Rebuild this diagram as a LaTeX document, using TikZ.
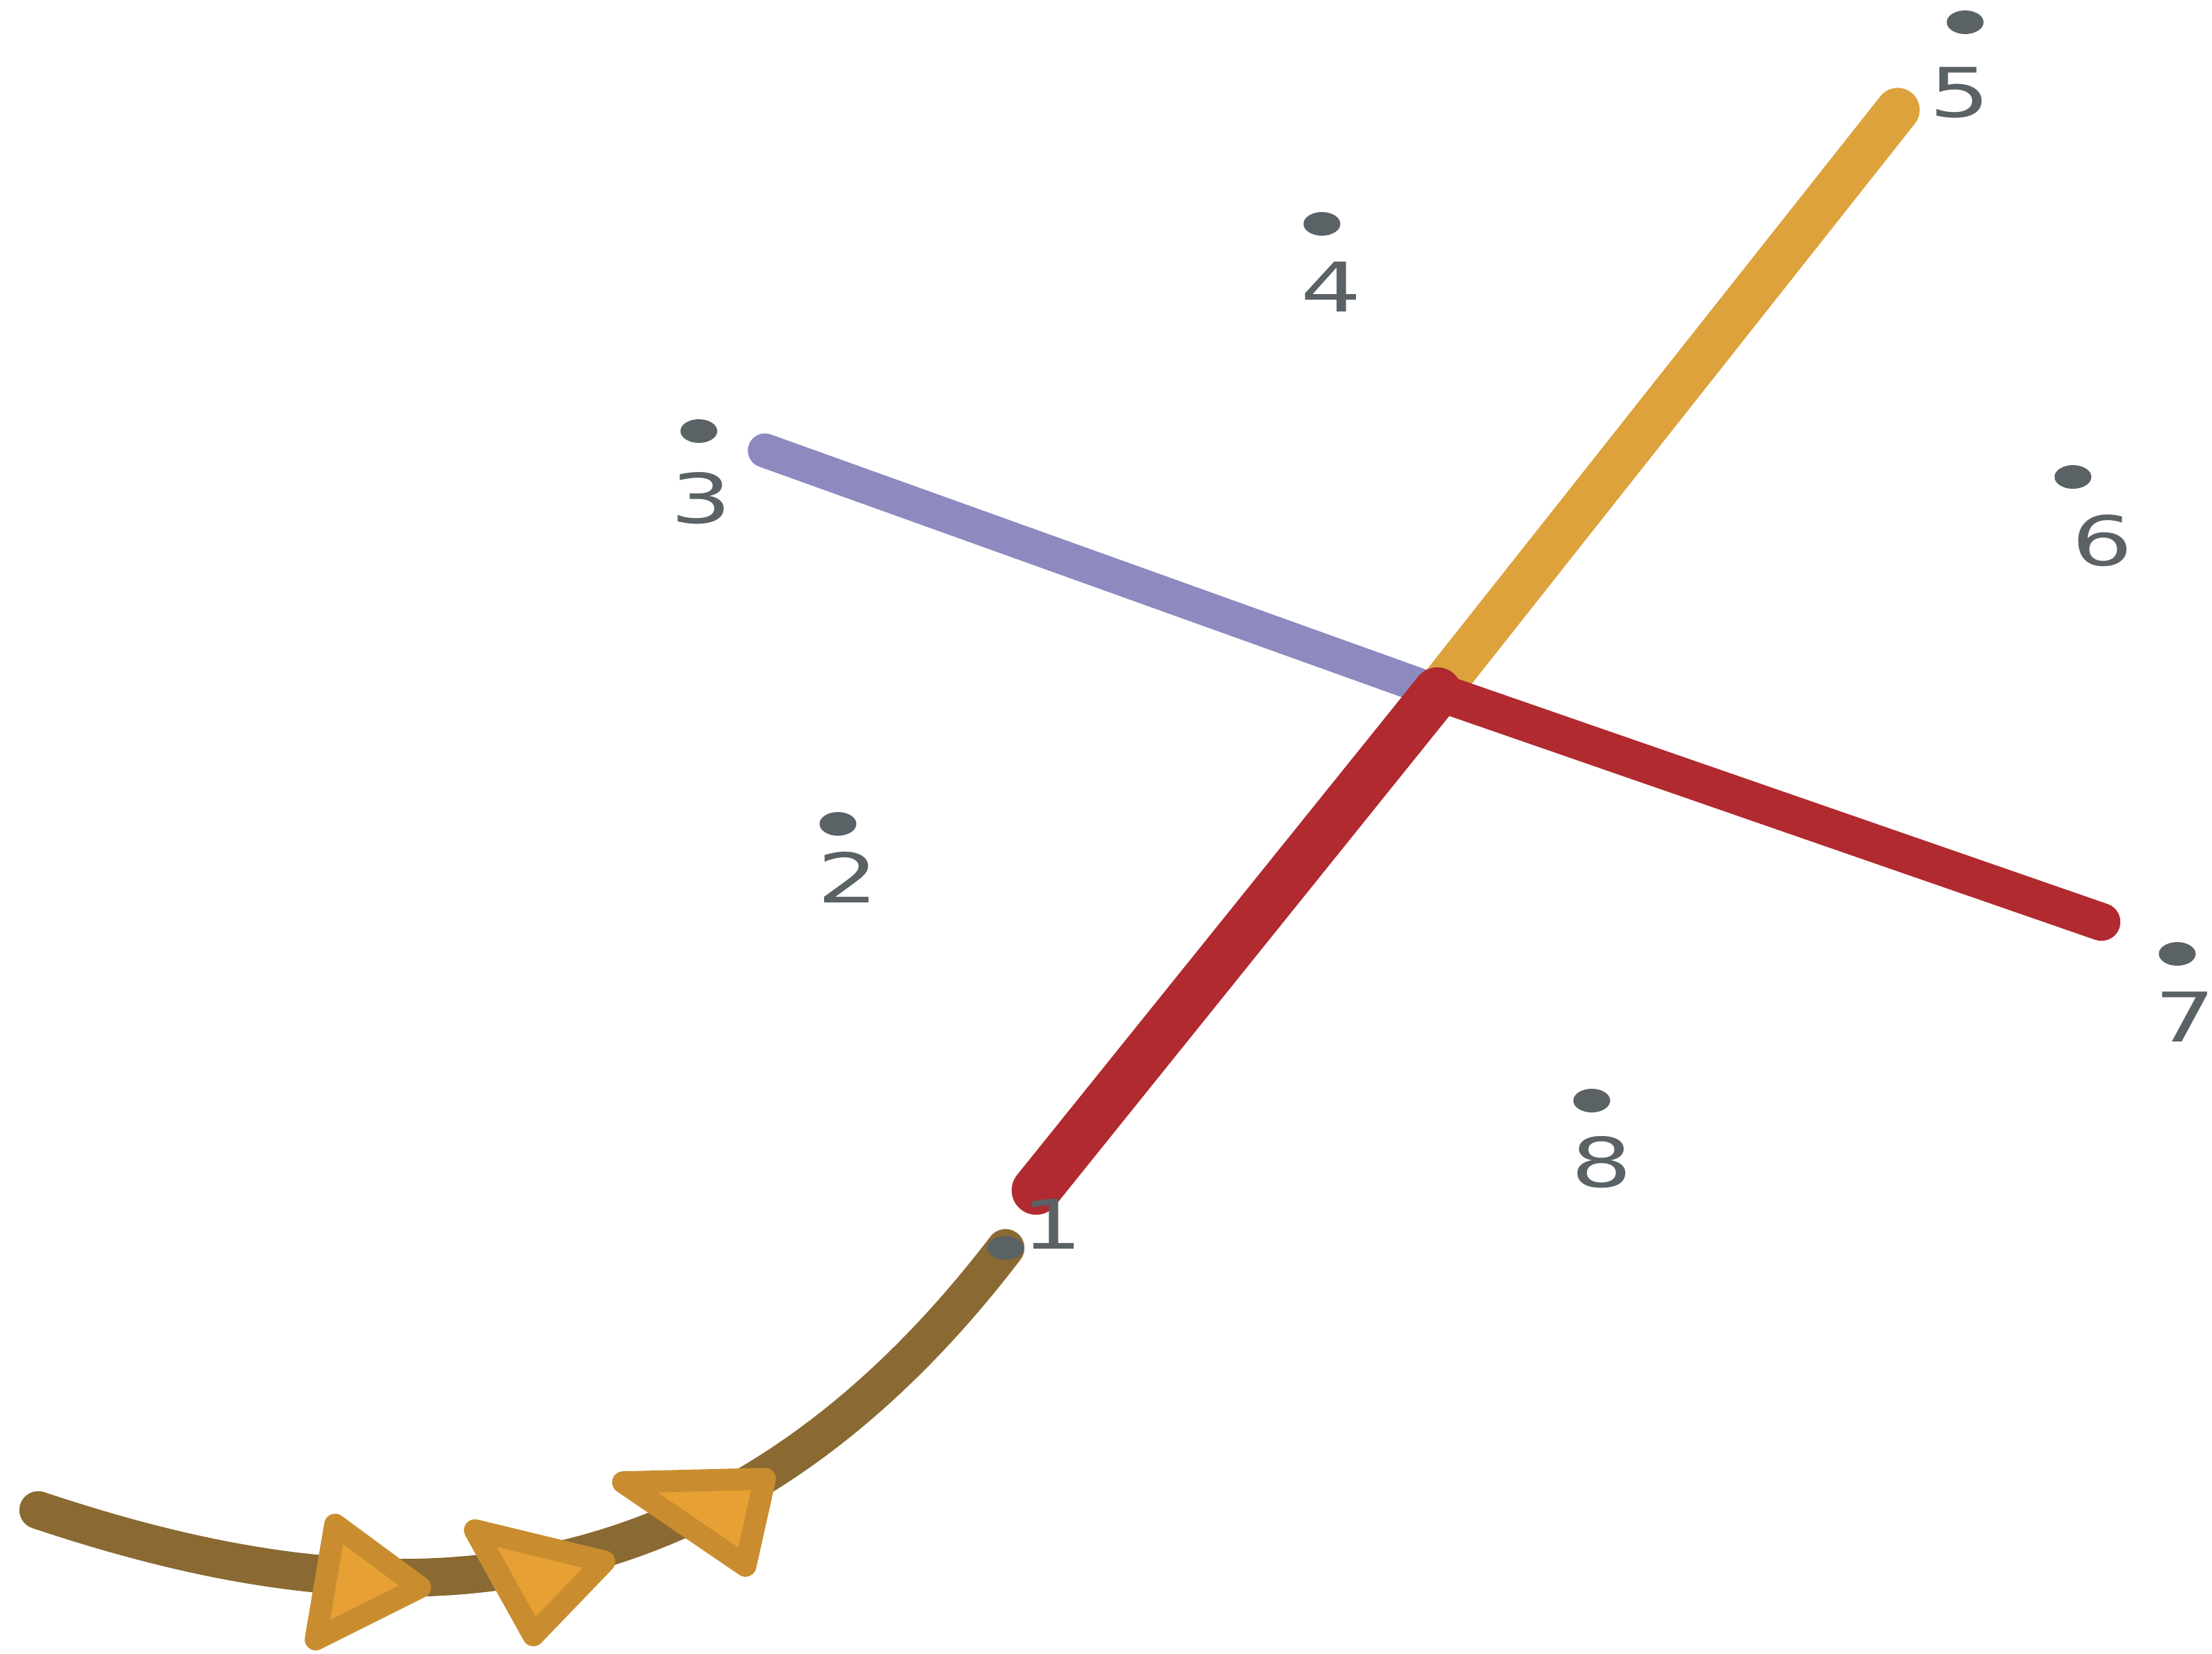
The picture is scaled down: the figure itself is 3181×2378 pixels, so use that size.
\documentclass[tikz,border=0pt]{standalone}
\usepackage{fontspec}
\setmainfont{DejaVu Sans}
\usetikzlibrary{shapes.geometric}
\definecolor{dotgray}{HTML}{5A6266}
\definecolor{lineorange}{HTML}{DDA23C}
\definecolor{linepurple}{HTML}{8D8AC0}
\definecolor{linered}{HTML}{B02A2F}
\definecolor{linebrown}{HTML}{8A6A32}
\definecolor{trifill}{HTML}{E6A033}
\definecolor{triedge}{HTML}{C98D30}
\begin{document}
\begin{tikzpicture}[x=0.01cm,y=-0.01cm,
  dot/.style={ellipse,fill=dotgray,minimum width=0.53cm,minimum height=0.34cm,inner sep=0pt},
  lbl/.style={text=dotgray,font=\fontsize{28}{30}\selectfont,xscale=1.4,inner sep=0pt},
  seg/.style={line cap=round,line join=round},
  tri/.style={fill=trifill,draw=triedge,line width=9pt,line join=round}]
\useasboundingbox (0,0) rectangle (3181,2378);
% dot positions
\coordinate (d1) at (1446,1795);
\coordinate (d2) at (1205,1185);
\coordinate (d3) at (1005,620);
\coordinate (d4) at (1901,322);
\coordinate (d5) at (2826,32);
\coordinate (d6) at (2981,686);
\coordinate (d7) at (3131,1372);
\coordinate (d8) at (2289,1583);
% line end points
\coordinate (corner) at (2067,995);
\coordinate (oend) at (2729,158);
\coordinate (pend) at (1100,648);
\coordinate (rlow) at (1490,1712);
\coordinate (rright) at (3022,1326);
\coordinate (bend) at (55,2172);
% lines
\draw[seg,linepurple,line width=14pt] (pend) -- (corner);
\draw[seg,lineorange,line width=18pt] (oend) -- (corner);
\draw[seg,linered,line width=20pt] (rlow) -- (corner);
\draw[seg,linered,line width=15.5pt] (corner) -- (rright);
\draw[seg,linebrown,line width=15.5pt] (d1) .. controls (1005,2372) and (495,2319) .. (bend);
% markers along the curve
\draw[tri] (482,2193) -- (604,2283) -- (454,2358) -- cycle;
\draw[tri] (683,2201) -- (869,2246) -- (767,2352) -- cycle;
\draw[tri] (896,2132) -- (1100,2127) -- (1072,2252) -- cycle;
% dots
\foreach \i in {1,...,8} { \node[dot] (p\i) at (d\i) {}; }
% labels
\node[lbl] (l1) at (1513,1761) {1};
\node[lbl] (l2) at (1219,1262) {2};
\node[lbl] (l3) at (1008,717) {3};
\node[lbl] (l4) at (1914,413) {4};
\node[lbl] (l5) at (2818,133) {5};
\node[lbl] (l6) at (3023,778) {6};
\node[lbl] (l7) at (3142,1463) {7};
\node[lbl] (l8) at (2303,1672) {8};
\end{tikzpicture}
\end{document}
